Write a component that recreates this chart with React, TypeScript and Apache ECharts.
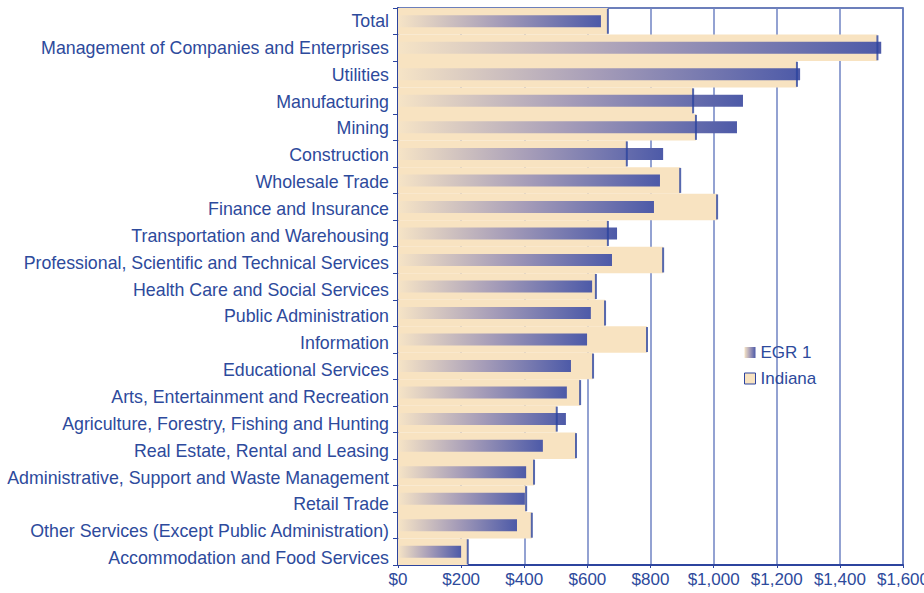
import React, { useEffect, useRef } from "react";
import * as echarts from "echarts";

const categories = [
  "Total",
  "Management of Companies and Enterprises",
  "Utilities",
  "Manufacturing",
  "Mining",
  "Construction",
  "Wholesale Trade",
  "Finance and Insurance",
  "Transportation and Warehousing",
  "Professional, Scientific and Technical Services",
  "Health Care and Social Services",
  "Public Administration",
  "Information",
  "Educational Services",
  "Arts, Entertainment and Recreation",
  "Agriculture, Forestry, Fishing and Hunting",
  "Real Estate, Rental and Leasing",
  "Administrative, Support and Waste Management",
  "Retail Trade",
  "Other Services (Except Public Administration)",
  "Accommodation and Food Services",
];

const egr1 = [643, 1531, 1274, 1093, 1074, 840, 830, 811, 694, 678, 615, 611, 599, 548, 535, 532, 459, 406, 402, 377, 200];
const indiana = [665, 1519, 1264, 935, 944, 725, 894, 1011, 665, 840, 627, 656, 789, 618, 577, 503, 564, 431, 406, 424, 221];

const xTicks = { min: 0, max: 1600, interval: 200 };

const BLUE = "#2c449e";
const TEXT = "#2d4a9c";
const PEACH = "#f8e3c1";
const FONT = "'Liberation Sans', Arial, Helvetica, sans-serif";

export default function App() {
  const ref = useRef<HTMLDivElement>(null);
  useEffect(() => {
    if (!ref.current) return;
    const chart = echarts.init(ref.current, undefined, { renderer: "svg" });
    const grad = new echarts.graphic.LinearGradient(0, 0, 1, 0, [
      { offset: 0, color: "#f6e4c6" },
      { offset: 0.5, color: "#a59cb8" },
      { offset: 1, color: "#4d5aa8" },
    ]);
    chart.setOption({
      animation: false,
      textStyle: { fontFamily: FONT },
      grid: [
        {
          left: 398,
          right: 21,
          top: 8,
          bottom: 28,
          containLabel: false,
          outerBoundsMode: "none",
          show: true,
          borderColor: "#3d55a5",
          borderWidth: 1.5,
          backgroundColor: "transparent",
        },
        {
          left: 398,
          right: 21,
          top: 7.6,
          bottom: 21.5,
          containLabel: false,
          outerBoundsMode: "none",
          show: false,
        },
      ],
      legend: {
        orient: "vertical",
        left: 739,
        top: 339,
        itemGap: 9,
        itemWidth: 11,
        itemHeight: 11,
        icon: "rect",
        textStyle: { fontSize: 17, color: TEXT, fontFamily: FONT },
        data: [
          { name: "EGR 1" },
          { name: "Indiana", itemStyle: { borderColor: BLUE, borderWidth: 1 } },
        ],
      },
      xAxis: [
        {
          type: "value",
          gridIndex: 0,
          min: xTicks.min,
          max: xTicks.max,
          interval: xTicks.interval,
          axisLine: { show: true, lineStyle: { color: BLUE, width: 2 } },
          axisTick: { show: true, length: 3, lineStyle: { color: BLUE } },
          splitLine: { show: true, lineStyle: { color: "#6f83c3", width: 1.5 } },
          axisLabel: {
            fontSize: 17,
            color: TEXT,
            fontFamily: FONT,
            margin: 6,
            formatter: (v: number) => "$" + v.toLocaleString("en-US"),
          },
        },
        {
          type: "value",
          gridIndex: 1,
          min: 0,
          max: 1,
          show: false,
        },
      ],
      yAxis: [
        {
          type: "category",
          gridIndex: 0,
          data: categories,
          inverse: true,
          axisLine: { show: true, lineStyle: { color: BLUE, width: 2 } },
          axisTick: { show: true, length: 5, lineStyle: { color: BLUE } },
          axisLabel: { show: false },
        },
        {
          type: "category",
          gridIndex: 0,
          data: categories,
          inverse: true,
          show: false,
        },
        {
          type: "category",
          gridIndex: 1,
          data: categories,
          inverse: true,
          axisLine: { show: false },
          axisTick: { show: false },
          splitLine: { show: false },
          axisLabel: { fontSize: 17.8, color: TEXT, fontFamily: FONT, margin: 9 },
        },
      ],
      series: [
        {
          name: "Indiana",
          type: "bar",
          xAxisIndex: 0,
          yAxisIndex: 0,
          data: indiana,
          barWidth: "100%",
          itemStyle: { color: PEACH },
          z: 2,
        },
        {
          name: "IndianaEdge",
          type: "scatter",
          xAxisIndex: 0,
          yAxisIndex: 0,
          data: indiana.map((v, i) => [v, i]),
          symbol: "rect",
          symbolSize: [2, 25],
          itemStyle: { color: BLUE },
          z: 4,
          silent: true,
        },
        {
          name: "EGR 1",
          type: "bar",
          xAxisIndex: 0,
          yAxisIndex: 1,
          data: egr1,
          barWidth: 12,
          itemStyle: { color: grad },
          z: 3,
        },
      ],
    });
    return () => chart.dispose();
  }, []);
  return (
    <div
      ref={ref}
      style={{ position: "fixed", left: 0, top: 0, width: 924, height: 593, background: "#fff" }}
    />
  );
}
